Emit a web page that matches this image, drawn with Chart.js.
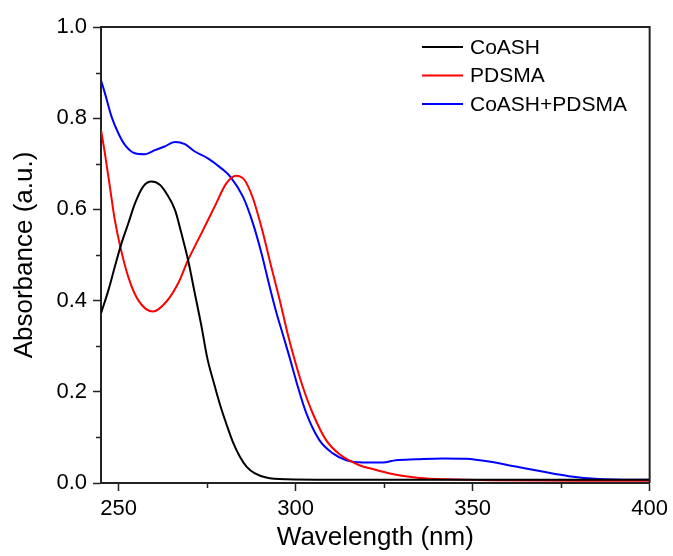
<!DOCTYPE html>
<html>
<head>
<meta charset="utf-8">
<script src="https://cdn.jsdelivr.net/npm/chart.js@4.4.0/dist/chart.umd.min.js"></script>
<style>
  body { margin: 0; background: #fff; }
  #wrap { width: 673px; height: 556px; }
</style>
</head>
<body>
<div id="wrap"><canvas id="chart" width="673" height="556"></canvas></div>
<script>
// wavelength (nm) / absorbance
const coashX = [245, 247.1, 248.9, 250.8, 252.7, 254.6, 256.9, 259.3, 261.6, 263.5, 265.9, 267.7, 269.6, 271.5, 273.4, 275.0, 276.8, 278.5, 280.4, 282.3, 284.2, 286.1, 288.5, 291.7, 297.3, 310, 330, 350, 370, 400];
const coashY = [0.372, 0.423, 0.474, 0.526, 0.569, 0.613, 0.650, 0.661, 0.654, 0.635, 0.599, 0.548, 0.489, 0.416, 0.343, 0.275, 0.222, 0.175, 0.130, 0.089, 0.058, 0.036, 0.021, 0.012, 0.008, 0.007, 0.007, 0.007, 0.007, 0.007];

const pdsmaX = [245, 246.1, 247.5, 248.9, 250.4, 252.7, 255.5, 259.7, 263.5, 266.8, 269.6, 273.4, 277.1, 280.4, 283.2, 285.5, 287.9, 290.7, 293.1, 295.5, 297.8, 300.0, 302.0, 304.8, 308.6, 312.4, 318.0, 322.0, 326.0, 330.0, 335.0, 343.0, 355.0, 380, 400];
const pdsmaY = [0.775, 0.723, 0.650, 0.577, 0.520, 0.452, 0.401, 0.376, 0.398, 0.438, 0.489, 0.548, 0.606, 0.657, 0.674, 0.665, 0.625, 0.550, 0.474, 0.401, 0.325, 0.262, 0.211, 0.153, 0.094, 0.063, 0.039, 0.030, 0.022, 0.016, 0.011, 0.008, 0.006, 0.005, 0.005];

const mixX = [245, 246.1, 248.0, 249.9, 251.8, 254.6, 257.4, 260.2, 263.0, 265.9, 268.7, 271.5, 275.2, 279.0, 281.5, 285.1, 287.9, 290.3, 292.6, 294.5, 296.4, 298.3, 300.2, 303.0, 306.7, 310.5, 314.3, 318.9, 324.6, 328.3, 334.0, 341.5, 348.1, 354.6, 362.2, 369.7, 377.2, 385.6, 400];
const mixY = [0.883, 0.855, 0.803, 0.767, 0.741, 0.723, 0.721, 0.730, 0.738, 0.748, 0.743, 0.727, 0.712, 0.690, 0.672, 0.628, 0.570, 0.505, 0.432, 0.375, 0.325, 0.275, 0.222, 0.153, 0.094, 0.065, 0.050, 0.045, 0.045, 0.050, 0.052, 0.054, 0.053, 0.047, 0.036, 0.025, 0.015, 0.009, 0.007];

const seriesNames = ["CoASH", "PDSMA", "CoASH+PDSMA"];
const seriesColors = ["#000000", "#ff0000", "#0000ff"];

const xTicks = [250, 300, 350, 400];
const xMinorTicks = [275, 325, 375];
const yMinorTicks = [0.1, 0.3, 0.5, 0.7, 0.9];

const toPoints = (xs, ys) => xs.map((x, i) => ({ x: x, y: ys[i] }));
const allSeries = [toPoints(coashX, coashY), toPoints(pdsmaX, pdsmaY), toPoints(mixX, mixY)];

const FONT = "'Liberation Sans', Arial, sans-serif";
const AXIS_COLOR = "#222";

// frame, minor ticks and the in-plot legend
const extras = {
  id: "extras",
  afterDraw(chart) {
    const ctx = chart.ctx;
    const a = chart.chartArea;
    const xs = chart.scales.x, ys = chart.scales.y;
    ctx.save();
    ctx.strokeStyle = AXIS_COLOR;
    ctx.lineWidth = 2;
    ctx.beginPath();
    ctx.moveTo(a.left, a.top);
    ctx.lineTo(a.right, a.top);
    ctx.lineTo(a.right, a.bottom);
    ctx.stroke();

    ctx.lineWidth = 1.5;
    ctx.beginPath();
    xMinorTicks.forEach((v) => {
      const px = Math.round(xs.getPixelForValue(v)) + 0.5;
      ctx.moveTo(px, a.bottom);
      ctx.lineTo(px, a.bottom + 5);
    });
    yMinorTicks.forEach((v) => {
      const py = Math.round(ys.getPixelForValue(v)) + 0.5;
      ctx.moveTo(a.left, py);
      ctx.lineTo(a.left - 5, py);
    });
    ctx.stroke();

    // legend
    ctx.font = "21px " + FONT;
    ctx.textBaseline = "middle";
    ctx.fillStyle = "#000";
    chart.data.datasets.forEach((ds, i) => {
      const y = 47 + i * 28.5;
      ctx.strokeStyle = ds.borderColor;
      ctx.lineWidth = 2;
      ctx.beginPath();
      ctx.moveTo(422, y);
      ctx.lineTo(463, y);
      ctx.stroke();
      ctx.fillText(ds.label, 470, y + 1);
    });
    ctx.restore();
  },
};

new Chart(document.getElementById("chart"), {
  type: "line",
  data: {
    datasets: seriesNames.map((name, i) => ({
      label: name,
      data: allSeries[i],
      borderColor: seriesColors[i],
      borderWidth: 2,
      pointRadius: 0,
      tension: 0.4,
      cubicInterpolationMode: "monotone",
      fill: false,
    })),
  },
  options: {
    responsive: false,
    animation: false,
    devicePixelRatio: 1,
    layout: { padding: { left: 0, right: 23, top: 27, bottom: 0 } },
    plugins: { legend: { display: false }, tooltip: { enabled: false } },
    scales: {
      x: {
        type: "linear",
        min: 245,
        max: 400,
        afterBuildTicks: (scale) => {
          scale.ticks = xTicks.map((v) => ({ value: v }));
        },
        afterFit: (scale) => {
          scale.height = 73;
        },
        border: { display: true, color: AXIS_COLOR, width: 2 },
        grid: { drawOnChartArea: false, drawTicks: true, tickLength: 8, tickColor: AXIS_COLOR, tickWidth: 1.5 },
        ticks: { color: "#000", font: { family: FONT, size: 22 }, padding: 5, maxRotation: 0 },
        title: { display: true, text: "Wavelength (nm)", color: "#000", font: { family: FONT, size: 26 }, padding: { top: 0, bottom: 3 } },
      },
      y: {
        min: 0,
        max: 1,
        afterFit: (scale) => {
          scale.width = 101;
        },
        border: { display: true, color: AXIS_COLOR, width: 2 },
        grid: { drawOnChartArea: false, drawTicks: true, tickLength: 8, tickColor: AXIS_COLOR, tickWidth: 1.5 },
        ticks: { stepSize: 0.2, color: "#000", font: { family: FONT, size: 22 }, padding: 6, callback: (v) => v.toFixed(1) },
        title: { display: true, text: "Absorbance (a.u.)", color: "#000", font: { family: FONT, size: 26 }, padding: { top: 9, bottom: 0 } },
      },
    },
  },
  plugins: [extras],
});
</script>
</body>
</html>
